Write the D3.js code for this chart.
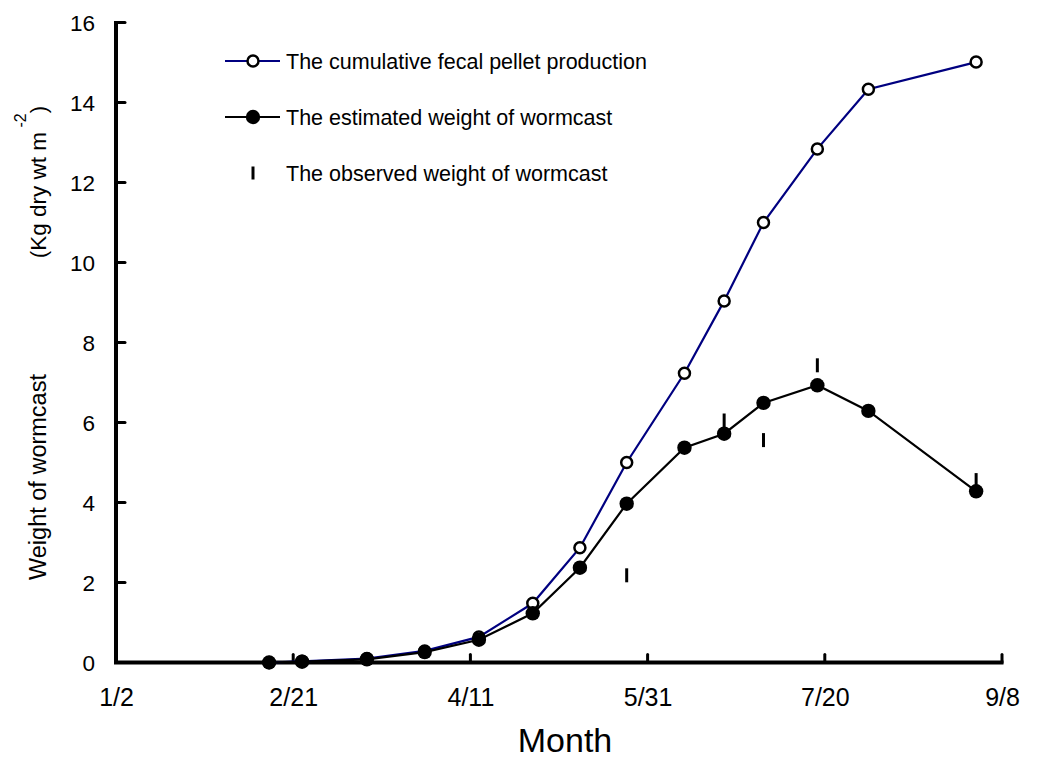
<!DOCTYPE html>
<html>
<head>
<meta charset="utf-8">
<script src="https://cdn.jsdelivr.net/npm/d3@7"></script>
<style>
  html, body { margin: 0; padding: 0; background: #fff; }
  text { font-family: "Liberation Sans", Arial, sans-serif; fill: #000; }
</style>
</head>
<body>
<svg id="chart" width="1037" height="760"></svg>
<script>
// ---- data (x = days since 1/2) ----
const sampleDays = [43.2, 52.5, 70.8, 87.1, 102.4, 117.6, 130.9, 144.1, 160.4, 171.6, 182.7, 197.9, 212.3, 242.7];
const cumulativePellet = [0, 0.03, 0.1, 0.29, 0.64, 1.48, 2.87, 5.0, 7.23, 9.04, 11.0, 12.84, 14.33, 15.01];
const estimatedWormcast = [0, 0.02, 0.08, 0.26, 0.57, 1.23, 2.37, 3.97, 5.37, 5.72, 6.49, 6.93, 6.29, 4.28];
const observedDays = [144.1, 171.6, 182.7, 197.9, 242.7];
const observedWormcast = [2.18, 6.05, 5.56, 7.43, 4.56];
const xTickDays = [0, 50, 100, 150, 200, 250];
const xTickLabels = ["1/2", "2/21", "4/11", "5/31", "7/20", "9/8"];
const yTicks = [0, 2, 4, 6, 8, 10, 12, 14, 16];
const legendLabels = ["The cumulative fecal pellet production", "The estimated weight of wormcast", "The observed weight of wormcast"];

const svg = d3.select("#chart");
const x = d3.scaleLinear().domain([0, 250]).range([116, 1002]);
const y = d3.scaleLinear().domain([0, 16]).range([662.5, 22.5]);

// ---- axes ----
const yAxis = d3.axisLeft(y).tickValues(yTicks).tickSize(0).tickPadding(21).tickFormat(d3.format("d"));
const gy = svg.append("g").attr("transform", "translate(116,0)").call(yAxis);
gy.select(".domain").remove();
gy.selectAll("text").style("font-size", "22.5px").attr("dy", "0.36em");

const xAxis = d3.axisBottom(x).tickValues(xTickDays).tickSize(0).tickPadding(26)
  .tickFormat((d, i) => xTickLabels[i]);
const gx = svg.append("g").attr("transform", "translate(0,662.5)").call(xAxis);
gx.select(".domain").remove();
gx.selectAll("text").style("font-size", "25px").attr("dy", "0.71em");

// axis lines and inner ticks
svg.append("line").attr("x1", 116).attr("x2", 116).attr("y1", y(16) - 1.5).attr("y2", y(0) + 1.5)
  .attr("stroke", "#000").attr("stroke-width", 4);
svg.append("line").attr("x1", 114).attr("x2", x(250) + 1.5).attr("y1", y(0)).attr("y2", y(0))
  .attr("stroke", "#000").attr("stroke-width", 4);
svg.append("g").selectAll("line").data(yTicks.filter(d => d > 0)).join("line")
  .attr("x1", 116).attr("x2", 125).attr("y1", d => y(d)).attr("y2", d => y(d))
  .attr("stroke", "#000").attr("stroke-width", 3).attr("stroke-linecap", "round");
svg.append("g").selectAll("line").data(xTickDays.filter(d => d > 0)).join("line")
  .attr("x1", d => x(d)).attr("x2", d => x(d)).attr("y1", y(0)).attr("y2", y(0) - 8)
  .attr("stroke", "#000").attr("stroke-width", 3).attr("stroke-linecap", "round");

// axis titles
svg.append("text").attr("x", 565).attr("y", 752).attr("text-anchor", "middle")
  .style("font-size", "34px").text("Month");
svg.append("text").attr("transform", "translate(46,477) rotate(-90)").attr("text-anchor", "middle")
  .style("font-size", "23.5px").text("Weight of wormcast");
const unit = svg.append("text").attr("transform", "translate(46,182) rotate(-90)").attr("text-anchor", "middle")
  .style("font-size", "22.5px");
unit.append("tspan").text("(Kg dry wt m");
unit.append("tspan").attr("dy", -20).style("font-size", "16px").text(" -2");
unit.append("tspan").attr("dy", 20).text(")");

// ---- series ----
const line = d3.line().x(d => x(d[0])).y(d => y(d[1]));
const cumPts = sampleDays.map((d, i) => [d, cumulativePellet[i]]);
const estPts = sampleDays.map((d, i) => [d, estimatedWormcast[i]]);
const obsPts = observedDays.map((d, i) => [d, observedWormcast[i]]);

svg.append("path").datum(cumPts).attr("d", line).attr("fill", "none")
  .attr("stroke", "#000080").attr("stroke-width", 2.2);
svg.append("g").selectAll("circle").data(cumPts).join("circle")
  .attr("cx", d => x(d[0])).attr("cy", d => y(d[1])).attr("r", 5.5)
  .attr("fill", "#fff").attr("stroke", "#000").attr("stroke-width", 2.5);

svg.append("g").selectAll("line").data(obsPts).join("line")
  .attr("x1", d => x(d[0])).attr("x2", d => x(d[0]))
  .attr("y1", d => y(d[1]) - 7).attr("y2", d => y(d[1]) + 7)
  .attr("stroke", "#000").attr("stroke-width", 3);

svg.append("path").datum(estPts).attr("d", line).attr("fill", "none")
  .attr("stroke", "#000").attr("stroke-width", 2.2);
svg.append("g").selectAll("circle").data(estPts).join("circle")
  .attr("cx", d => x(d[0])).attr("cy", d => y(d[1])).attr("r", 7.2)
  .attr("fill", "#000");

// ---- legend ----
const legY = [61, 117, 173];
const lg = svg.append("g");
lg.append("line").attr("x1", 225).attr("x2", 280).attr("y1", legY[0]).attr("y2", legY[0])
  .attr("stroke", "#000080").attr("stroke-width", 2.2);
lg.append("circle").attr("cx", 253).attr("cy", legY[0]).attr("r", 5.5)
  .attr("fill", "#fff").attr("stroke", "#000").attr("stroke-width", 2.5);
lg.append("line").attr("x1", 225).attr("x2", 280).attr("y1", legY[1]).attr("y2", legY[1])
  .attr("stroke", "#000").attr("stroke-width", 2.2);
lg.append("circle").attr("cx", 253).attr("cy", legY[1]).attr("r", 7.2).attr("fill", "#000");
lg.append("line").attr("x1", 253).attr("x2", 253).attr("y1", legY[2] - 6.5).attr("y2", legY[2] + 6.5)
  .attr("stroke", "#000").attr("stroke-width", 3);
lg.selectAll("text").data(legendLabels).join("text")
  .attr("x", 286).attr("y", (d, i) => legY[i] + 8)
  .style("font-size", "21.5px").text(d => d);
</script>
</body>
</html>
